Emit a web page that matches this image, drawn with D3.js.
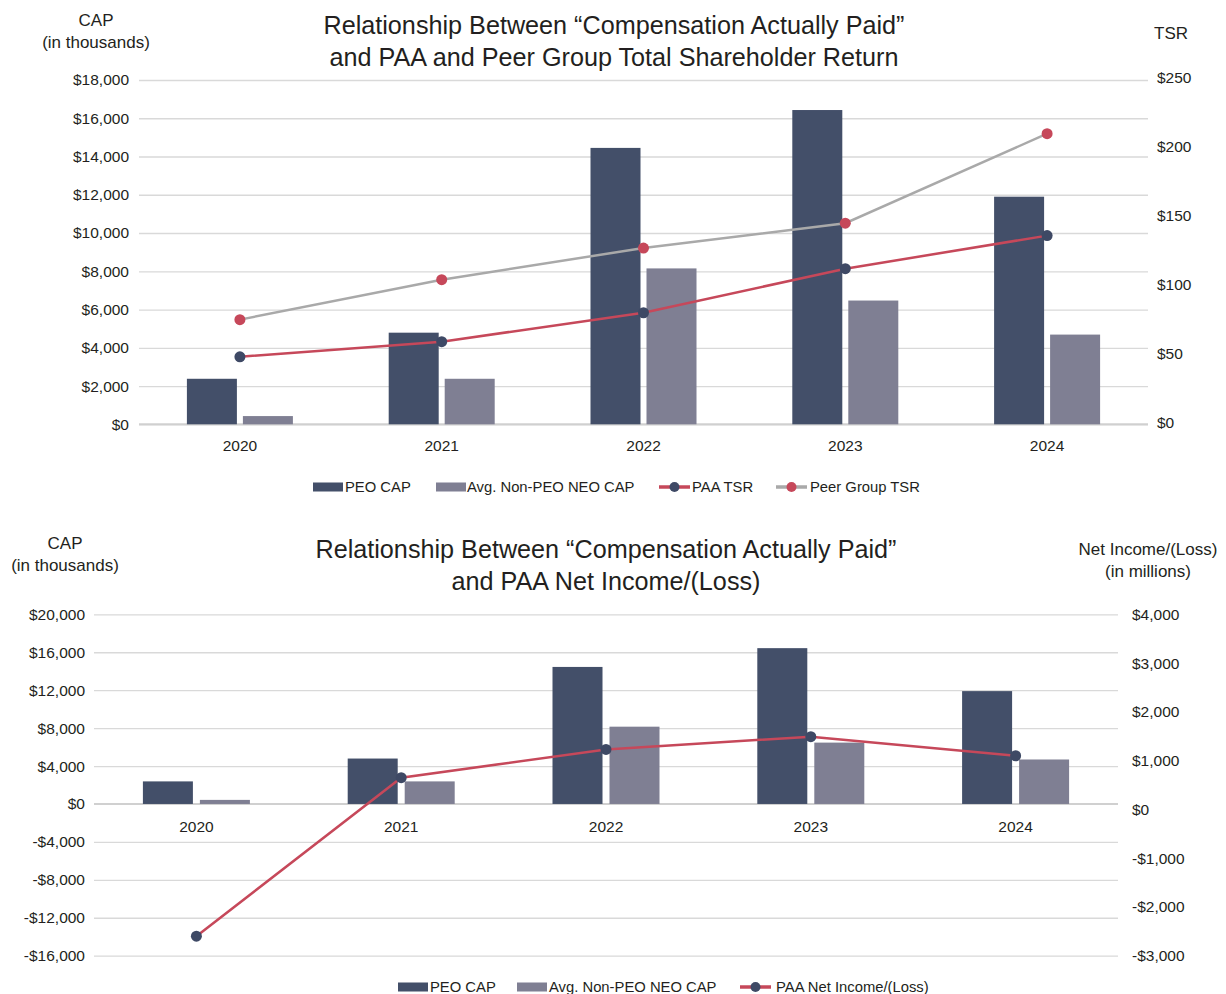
<!DOCTYPE html>
<html>
<head>
<meta charset="utf-8">
<script src="https://cdn.jsdelivr.net/npm/d3@7"></script>
<style>
  body { margin: 0; background: #fff; }
  svg text { font-family: "Liberation Sans", Arial, Helvetica, sans-serif; fill: #231f20; }
</style>
</head>
<body>
<svg id="chart" width="1226" height="994"></svg>
<script>
// values
const years = ["2020", "2021", "2022", "2023", "2024"];
const peoCap = [2380, 4790, 14450, 16430, 11900];       // $ thousands
const nonPeoCap = [430, 2380, 8150, 6470, 4690];        // $ thousands
const paaTsr = [49, 60, 81, 113, 137];
const peerTsr = [76, 105, 128, 146, 211];
const netIncome = [-2600, 650, 1230, 1490, 1100];       // $ millions

const capTicksTop = [0, 2000, 4000, 6000, 8000, 10000, 12000, 14000, 16000, 18000];
const tsrTicks = [0, 50, 100, 150, 200, 250];
const capTicksBottom = [-16000, -12000, -8000, -4000, 0, 4000, 8000, 12000, 16000, 20000];
const incomeTicks = [-3000, -2000, -1000, 0, 1000, 2000, 3000, 4000];

const C = {
  peo: "#434f69",
  non: "#7f7f93",
  red: "#c6485a",
  grey: "#a9a9a9",
  navy: "#3e4965",
  grid: "#d9d9d9"
};

const svg = d3.select("#chart");
const money = v => (v < 0 ? "-$" : "$") + d3.format(",")(Math.abs(v));

function panel(o) {
  const g = svg.append("g");
  const x = d3.scaleBand().domain(years).range([o.left, o.right]);
  const yL = d3.scaleLinear().domain(o.leftDomain).range([o.bottom, o.top]);
  const yR = d3.scaleLinear().domain(o.rightDomain).range([o.bottom, o.top]);
  const cx = d => x(d) + x.bandwidth() / 2;

  // left axis + gridlines
  g.append("g")
    .attr("transform", `translate(${o.left},0)`)
    .call(d3.axisLeft(yL).tickValues(o.leftTicks).tickSize(-(o.right - o.left))
      .tickPadding(o.padL).tickFormat(money))
    .call(a => a.select(".domain").remove())
    .call(a => a.selectAll("line").attr("stroke", C.grid).attr("stroke-width", 1.3))
    .call(a => a.selectAll("text").attr("font-size", 15.5));

  // right axis
  g.append("g")
    .attr("transform", `translate(${o.right},0)`)
    .call(d3.axisRight(yR).tickValues(o.rightTicks).tickSize(0)
      .tickPadding(o.padR).tickFormat(money))
    .call(a => a.select(".domain").remove())
    .call(a => a.selectAll("text").attr("font-size", 15.5).attr("dy", o.rightDy));

  // zero line
  g.append("line")
    .attr("x1", o.left).attr("x2", o.right)
    .attr("y1", yL(0)).attr("y2", yL(0))
    .attr("stroke", "#d0d0d0").attr("stroke-width", 2);

  // bars
  const barW = 50, gap = o.gap;
  g.append("g").selectAll("rect").data(years).join("rect")
    .attr("x", (d) => cx(d) - gap / 2 - barW)
    .attr("y", (d, i) => yL(peoCap[i]))
    .attr("width", barW)
    .attr("height", (d, i) => yL(0) - yL(peoCap[i]))
    .attr("fill", C.peo);
  g.append("g").selectAll("rect").data(years).join("rect")
    .attr("x", (d) => cx(d) + gap / 2)
    .attr("y", (d, i) => yL(nonPeoCap[i]))
    .attr("width", barW)
    .attr("height", (d, i) => yL(0) - yL(nonPeoCap[i]))
    .attr("fill", C.non);

  // x labels
  g.append("g")
    .attr("transform", `translate(0,${yL(0)})`)
    .call(d3.axisBottom(x).tickSize(0).tickPadding(o.padX))
    .call(a => a.select(".domain").remove())
    .call(a => a.selectAll("text").attr("font-size", 15.5));

  // lines
  o.lines.forEach(s => {
    const pts = years.map((d, i) => [cx(d), yR(s.values[i])]);
    g.append("path")
      .attr("d", d3.line()(pts))
      .attr("fill", "none").attr("stroke", s.stroke).attr("stroke-width", 2.5);
    g.append("g").selectAll("circle").data(pts).join("circle")
      .attr("cx", p => p[0]).attr("cy", p => p[1]).attr("r", 5.5)
      .attr("fill", s.marker);
  });

  // titles
  o.title.forEach((t, i) => {
    g.append("text").attr("x", o.titleX).attr("y", o.titleY + i * 32)
      .attr("text-anchor", "middle").attr("dominant-baseline", "central")
      .attr("font-size", 25.2).text(t);
  });
  o.axisTitles.forEach(t => {
    t.lines.forEach((s, i) => {
      g.append("text").attr("x", t.x).attr("y", t.y + i * 22)
        .attr("text-anchor", "middle").attr("dominant-baseline", "central")
        .attr("font-size", 17).text(s);
    });
  });

  // legend
  const lg = g.append("g").attr("transform", `translate(0,${o.legendY})`);
  o.legend.forEach(it => {
    if (it.type === "bar") {
      lg.append("rect").attr("x", it.x).attr("y", -4.5).attr("width", 30).attr("height", 9)
        .attr("fill", it.color);
    } else {
      lg.append("line").attr("x1", it.x).attr("x2", it.x + 31).attr("y1", 0).attr("y2", 0)
        .attr("stroke", it.color).attr("stroke-width", 3.5);
      lg.append("circle").attr("cx", it.x + 15.5).attr("cy", 0).attr("r", 5).attr("fill", it.marker);
    }
    lg.append("text").attr("x", it.tx).attr("y", 0).attr("dominant-baseline", "central")
      .attr("font-size", 14.8).text(it.label);
  });
}

panel({
  left: 139, right: 1148, top: 80, bottom: 424.3,
  leftDomain: [0, 18000], rightDomain: [0, 250],
  leftTicks: capTicksTop, rightTicks: tsrTicks,
  padL: 10, padR: 9, rightDy: "0.18em", padX: 16, gap: 6,
  lines: [
    { values: peerTsr, stroke: C.grey, marker: C.red },
    { values: paaTsr, stroke: C.red, marker: C.navy }
  ],
  title: ["Relationship Between \u201cCompensation Actually Paid\u201d",
          "and PAA and Peer Group Total Shareholder Return"],
  titleX: 614, titleY: 25,
  axisTitles: [
    { x: 96, y: 20, lines: ["CAP", "(in thousands)"] },
    { x: 1171, y: 33, lines: ["TSR"] }
  ],
  legendY: 487,
  legend: [
    { type: "bar", x: 313, tx: 345, color: C.peo, label: "PEO CAP" },
    { type: "bar", x: 436, tx: 467, color: C.non, label: "Avg. Non-PEO NEO CAP" },
    { type: "line", x: 659, tx: 692, color: C.red, marker: C.navy, label: "PAA TSR" },
    { type: "line", x: 776, tx: 810, color: C.grey, marker: C.red, label: "Peer Group TSR" }
  ]
});

panel({
  left: 94, right: 1118, top: 614.3, bottom: 955.7,
  leftDomain: [-16000, 20000], rightDomain: [-3000, 4000],
  leftTicks: capTicksBottom, rightTicks: incomeTicks,
  padL: 9, padR: 14, rightDy: "0.32em", padX: 17, gap: 7,
  lines: [
    { values: netIncome, stroke: C.red, marker: C.navy }
  ],
  title: ["Relationship Between \u201cCompensation Actually Paid\u201d",
          "and PAA Net Income/(Loss)"],
  titleX: 606, titleY: 549,
  axisTitles: [
    { x: 65, y: 543, lines: ["CAP", "(in thousands)"] },
    { x: 1148, y: 549, lines: ["Net Income/(Loss)", "(in millions)"] }
  ],
  legendY: 987,
  legend: [
    { type: "bar", x: 398, tx: 430, color: C.peo, label: "PEO CAP" },
    { type: "bar", x: 517, tx: 549, color: C.non, label: "Avg. Non-PEO NEO CAP" },
    { type: "line", x: 740, tx: 776, color: C.red, marker: C.navy, label: "PAA Net Income/(Loss)" }
  ]
});
</script>
</body>
</html>
